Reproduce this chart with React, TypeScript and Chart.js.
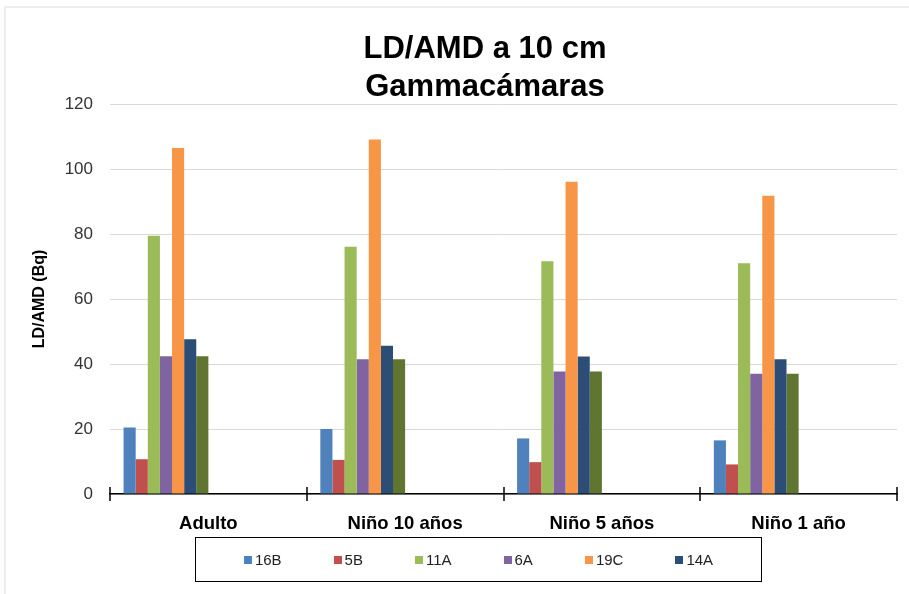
import React, { useEffect, useRef } from "react";
import { Chart, registerables } from "chart.js";
Chart.register(...registerables);

const categories = ["Adulto", "Niño 10 años", "Niño 5 años", "Niño 1 año"];
const seriesNames = ["16B", "5B", "11A", "6A", "19C", "14A", ""];
const s16B = [20.5, 20.0, 17.1, 16.5];
const s5B = [10.7, 10.5, 9.8, 9.1];
const s11A = [79.5, 76.1, 71.6, 71.0];
const s6A = [42.4, 41.5, 37.7, 37.0];
const s19C = [106.5, 109.1, 96.1, 91.8];
const s14A = [47.6, 45.6, 42.3, 41.5];
const s7th = [42.4, 41.5, 37.7, 37.0];
const seriesColors = ["#4F81BD", "#C0504D", "#9BBB59", "#8064A2", "#F79646", "#2C4D75", "#5F7530"];
const emptySeriesCount = 7;
const yMin = 0;
const yMax = 120;
const yStep = 20;
const titleLines = ["LD/AMD a 10 cm", "Gammacámaras"];
const yTitle = "LD/AMD (Bq)";
const legendCount = 6;

const FONT = "'Liberation Sans', Arial, sans-serif";

const crossTicks = {
  id: "crossTicks",
  afterDraw(chart: any) {
    const x = chart.scales.x;
    const ctx = chart.ctx;
    const n = categories.length;
    const half = (x.getPixelForValue(1) - x.getPixelForValue(0)) / 2;
    const yb = chart.chartArea.bottom;
    ctx.save();
    ctx.strokeStyle = "#000";
    ctx.lineWidth = 1.5;
    for (let i = 0; i <= n; i++) {
      const px = Math.round(x.getPixelForValue(0) - half + i * 2 * half);
      ctx.beginPath();
      ctx.moveTo(px, yb - 7);
      ctx.lineTo(px, yb + 7);
      ctx.stroke();
    }
    ctx.restore();
  },
};

export default function App() {
  const ref = useRef<HTMLCanvasElement | null>(null);
  useEffect(() => {
    if (!ref.current) return;
    const values = [s16B, s5B, s11A, s6A, s19C, s14A, s7th];
    const datasets: any[] = values.map((v, i) => ({
      label: seriesNames[i],
      data: v,
      backgroundColor: seriesColors[i],
      borderWidth: 0,
    }));
    for (let k = 0; k < emptySeriesCount; k++) {
      datasets.push({ label: "", data: categories.map(() => null), backgroundColor: "transparent" });
    }
    const chart = new Chart(ref.current, {
      type: "bar",
      data: { labels: categories, datasets },
      plugins: [crossTicks],
      options: {
        animation: false,
        responsive: true,
        maintainAspectRatio: false,
        layout: { padding: { left: 0, right: 12, top: 104, bottom: 0 } },
        datasets: { bar: { categoryPercentage: 0.862, barPercentage: 1.0 } },
        plugins: { legend: { display: false }, title: { display: false }, tooltip: { enabled: false } },
        scales: {
          x: {
            offset: true,
            grid: { drawOnChartArea: false, drawTicks: true, tickLength: 7, color: "transparent" },
            border: { color: "#000", width: 1.5 },
            ticks: { font: { family: FONT, size: 18.5, weight: "bold" }, color: "#000", padding: 12, maxRotation: 0 },
            afterFit: (s: any) => { s.height = 100; },
          },
          y: {
            min: yMin,
            max: yMax,
            ticks: { stepSize: yStep, font: { family: FONT, size: 17 }, color: "#333", padding: 17 },
            grid: { color: "#d9d9d9", lineWidth: 1, drawTicks: false },
            border: { display: false },
            title: {
              display: true,
              text: yTitle,
              font: { family: FONT, size: 16, weight: "bold" },
              color: "#000",
              padding: { top: 30, bottom: 0 },
            },
            afterFit: (s: any) => { s.width = 110; },
          },
        },
      },
    } as any);
    return () => chart.destroy();
  }, []);

  return (
    <div style={{ position: "fixed", left: 0, top: 0, width: 909, height: 594, background: "#fff", overflow: "hidden" }}>
      <div style={{ position: "absolute", left: 4, top: 6, right: -10, bottom: -10, borderTop: "2px solid #eeeeee", borderLeft: "2px solid #eeeeee" }} />
      <div style={{ position: "absolute", left: 0, top: 0, width: 909, height: 594 }}>
        <canvas ref={ref} />
      </div>
      <div
        style={{
          position: "absolute",
          left: 285,
          top: 29,
          width: 400,
          textAlign: "center",
          fontFamily: FONT,
          fontWeight: "bold",
          fontSize: 31,
          lineHeight: "38px",
          color: "#000",
        }}
      >
        {titleLines.map((t, i) => (
          <div key={i}>{t}</div>
        ))}
      </div>
      <div
        style={{
          position: "absolute",
          left: 195,
          top: 537,
          width: 565,
          height: 43,
          border: "1.5px solid #000",
          display: "flex",
          alignItems: "center",
          justifyContent: "center",
          gap: 52,
          fontFamily: FONT,
          fontSize: 15,
          color: "#222",
        }}
      >
        {seriesNames.slice(0, legendCount).map((n, i) => (
          <div key={i} style={{ display: "flex", alignItems: "center" }}>
            <span style={{ display: "inline-block", width: 8, height: 8, background: seriesColors[i], marginRight: 3 }} />
            <span>{n}</span>
          </div>
        ))}
      </div>
    </div>
  );
}
